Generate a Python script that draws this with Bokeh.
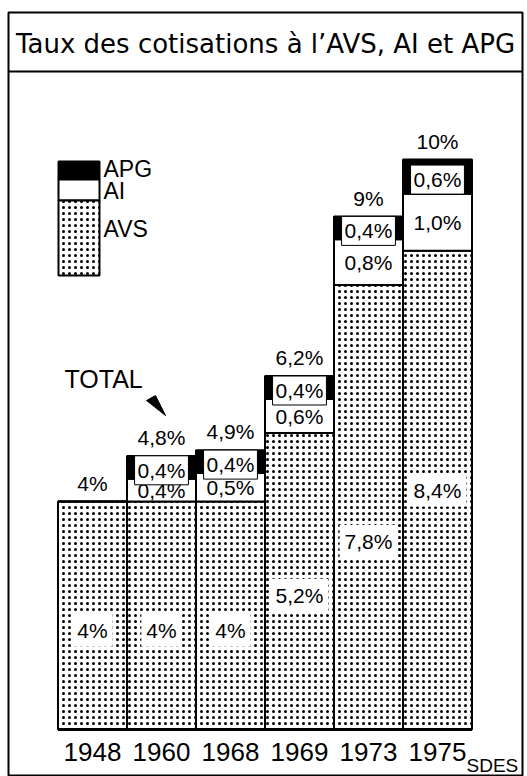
import numpy as np
from bokeh.plotting import figure
from bokeh.models import ColumnDataSource, Range1d, Span
from bokeh.core.properties import value
from bokeh.embed import file_html
from bokeh.resources import INLINE

# ---- data ----
years = ["1948", "1960", "1968", "1969", "1973", "1975"]
avs = [4.0, 4.0, 4.0, 5.2, 7.8, 8.4]
ai = [0.0, 0.4, 0.5, 0.6, 0.8, 1.0]
apg = [0.0, 0.4, 0.4, 0.4, 0.4, 0.6]
avs_label_height = [1.74, 1.74, 1.74, 2.35, 3.3, 4.2]  # where the AVS label sits

title = "Taux des cotisations à l’AVS, AI et APG"
source_note = "SDES"

# ---- derived ----
x = np.arange(len(years))
avs_a = np.array(avs)
ai_a = np.array(ai)
apg_a = np.array(apg)
ai_top = avs_a + ai_a
tot = ai_top + apg_a


def pct(v, fmt="g"):
    return (format(v, fmt)).replace(".", ",") + "%"


tot_lbl = [pct(round(t, 1)) for t in tot]
avs_lbl = [pct(v) for v in avs]

# ---- figure geometry (pixel mapping) ----
W, H = 527, 776
PXU = 69.0   # px per category
PYU = 57.0   # px per percent
X0 = 57.5    # screen x of left edge of first bar
Y0 = 729.0   # screen y of baseline
FL, FR, FT, FB = 8, 522, 12, 776


def dx(sx):
    return -0.5 + (sx - X0) / PXU


def dy(sy):
    return (Y0 - sy) / PYU


p = figure(width=W, height=H, output_backend="svg", toolbar_location=None,
           x_range=Range1d(dx(FL), dx(FR)), y_range=Range1d(dy(FB), dy(FT)),
           min_border_top=FT, min_border_left=FL, min_border_right=W - FR,
           min_border_bottom=H - FB)
p.axis.visible = False
p.grid.visible = False
p.outline_line_color = "black"
p.outline_line_width = 2
p.background_fill_color = "white"
p.border_fill_color = "white"

FONT = value("Liberation Sans")
TFONT = value("DejaVu Sans")

# title + divider
p.add_layout(Span(location=dy(71), dimension="width", line_color="black", line_width=2))
p.text(x=[(dx(FL) + dx(FR)) / 2], y=[dy(43)], text=[title], text_font=TFONT,
       text_font_size="26px", text_align="center", text_baseline="middle", text_color="black")

src = ColumnDataSource(dict(x=x, avs=avs_a, ai_top=ai_top, tot=tot,
                            avs_lh=avs_label_height,
                            tot_lbl=tot_lbl, avs_lbl=avs_lbl, years=years))

# segment labels only where the segment exists
nz = ai_a > 0
seg = ColumnDataSource(dict(x=x[nz],
                            ai_mid=((avs_a + ai_top) / 2)[nz],
                            apg_mid=((ai_top + tot) / 2)[nz],
                            ai_lbl=[pct(v, ".1f") for v in ai_a[nz]],
                            apg_lbl=[pct(v, ".1f") for v in apg_a[nz]]))

HATCH = dict(hatch_pattern="dot", hatch_color="black", hatch_scale=6, hatch_weight=4)

# bars
p.vbar(x="x", bottom=0, top="avs", width=1, source=src, fill_color="white",
       line_color="black", line_width=2, **HATCH)
p.vbar(x="x", bottom="avs", top="ai_top", width=1, source=src, fill_color="white",
       line_color="black", line_width=2)
p.vbar(x="x", bottom="ai_top", top="tot", width=1, source=src, fill_color="black",
       line_color="black", line_width=2)
p.segment(x0=[-0.5], y0=[0], x1=[len(years) - 0.5], y1=[0], line_color="black", line_width=3)

# labels
p.text(x="x", y="tot", text="tot_lbl", source=src, text_font=FONT, text_font_size="21px",
       text_align="center", text_baseline="bottom", y_offset=-7, text_color="black")
p.text(x="x", y="avs_lh", text="avs_lbl", source=src, text_font=FONT, text_font_size="21px",
       text_align="center", text_baseline="middle", text_color="black",
       background_fill_color="white", padding=5, border_line_color=None)
p.text(x="x", y="ai_mid", text="ai_lbl", source=seg, text_font=FONT, text_font_size="21px",
       text_align="center", text_baseline="middle", text_color="black")
p.text(x="x", y="apg_mid", text="apg_lbl", source=seg, text_font=FONT, text_font_size="21px",
       text_align="center", text_baseline="middle", text_color="black", y_offset=3,
       background_fill_color="white", padding=3, border_line_color="black", border_line_width=1)
p.text(x="x", y=dy(751), text="years", source=src, text_font=FONT, text_font_size="26px",
       text_align="center", text_baseline="middle", text_color="black")
p.text(x=[dx(466)], y=[dy(765)], text=[source_note], text_font=FONT, text_font_size="19px",
       text_align="left", text_baseline="middle", text_color="black")

# legend
lx0, lx1 = dx(58), dx(99)
p.quad(left=[lx0], right=[lx1], bottom=[dy(179)], top=[dy(161)], fill_color="black",
       line_color="black", line_width=2)
p.quad(left=[lx0], right=[lx1], bottom=[dy(200)], top=[dy(179)], fill_color="white",
       line_color="black", line_width=2)
p.quad(left=[lx0], right=[lx1], bottom=[dy(275)], top=[dy(200)], fill_color="white",
       line_color="black", line_width=2, **HATCH)
p.text(x=[dx(103)] * 3, y=[dy(168), dy(190), dy(228)], text=["APG", "AI", "AVS"],
       text_font=FONT, text_font_size="23px", text_align="left", text_baseline="middle",
       text_color="black")

# TOTAL annotation
p.text(x=[dx(64)], y=[dy(378)], text=["TOTAL"], text_font=FONT, text_font_size="25px",
       text_align="left", text_baseline="middle", text_color="black")
p.patch(x=[dx(146), dx(155), dx(165)], y=[dy(400), dy(395), dy(415)],
        fill_color="black", line_color="black", line_width=1)

open("out.html", "w").write(file_html(p, INLINE))
